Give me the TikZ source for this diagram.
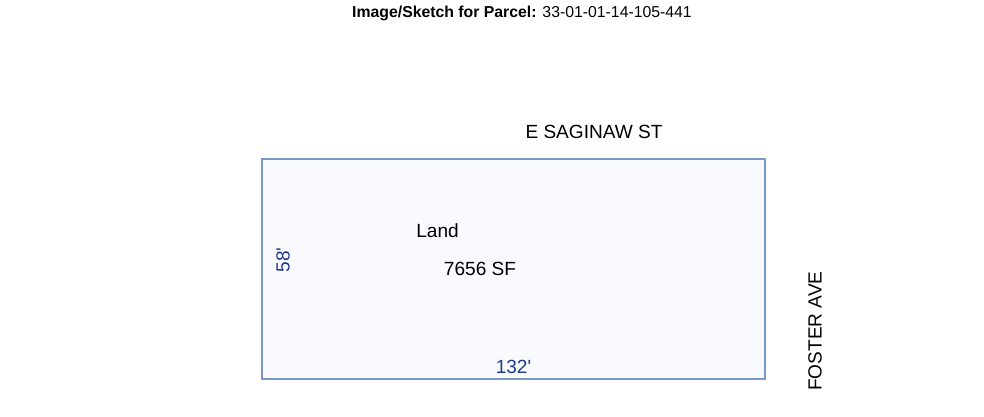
\documentclass[tikz,border=0pt]{standalone}
\usepackage{fontspec}
\newfontfamily\lsans{Liberation Sans}
\definecolor{lotedge}{HTML}{7A98C8}
\definecolor{lotfill}{HTML}{F8FAFD}
\definecolor{dimblue}{HTML}{1F3A8A}
\begin{document}
\begin{tikzpicture}[x=0.75pt,y=-0.75pt,
  lbl/.style={inner sep=0pt,font=\lsans\fontsize{14.3}{16}\selectfont},
  dim/.style={lbl,text=dimblue}]
\useasboundingbox (0,0) rectangle (984,417);
\node[inner sep=0pt,font=\lsans\fontsize{11.85}{13}\selectfont] (title) at (522,13) {\textbf{Image/Sketch for Parcel:} 33-01-01-14-105-441};
\draw[lotedge,fill=lotfill,line width=0.9pt] (262,159) rectangle (765,379);
\node[lbl] (street) at (594,132) {E SAGINAW ST};
\node[lbl] (land) at (437.5,231) {Land};
\node[lbl] (area) at (480,269) {7656 SF};
\node[dim,rotate=90] (depth) at (283,260) {58'};
\node[dim] (front) at (513.5,367) {132'};
\node[lbl,rotate=90] (avenue) at (815,331) {FOSTER AVE};
\end{tikzpicture}
\end{document}
